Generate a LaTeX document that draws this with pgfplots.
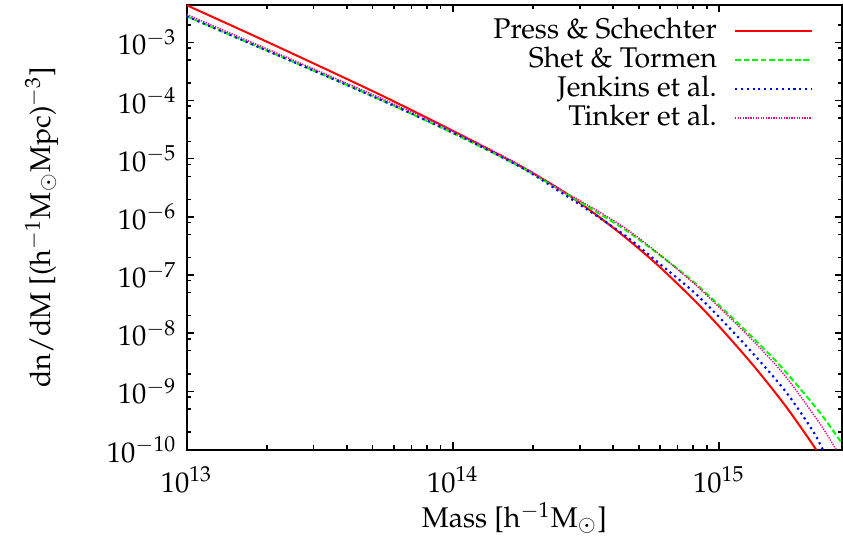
\documentclass[border=0pt]{standalone}
\usepackage[T1]{fontenc}
\usepackage{mathpazo}
\usepackage{pgfplots}
\pgfplotsset{compat=1.18}
\begin{document}
\begin{tikzpicture}
\begin{axis}[
  name=ax,
  xmode=log, ymode=log,
  scale only axis,
  width=230pt, height=156pt,
  xmin=1e13, xmax=2.9e15,
  ymin=1e-10, ymax=4.4e-3,
  xtick={1e13,1e14,1e15},
  ytick={1e-10,1e-9,1e-8,1e-7,1e-6,1e-5,1e-4,1e-3},
  minor ytick={2e-10,5e-10,8e-10,2e-9,5e-9,8e-9,2e-8,5e-8,8e-8,2e-7,5e-7,8e-7,2e-6,5e-6,8e-6,2e-5,5e-5,8e-5,2e-4,5e-4,8e-4,2e-3},
  tick align=inside,
  major tick length=2.6pt, minor tick length=1.5pt,
  every tick/.style={black, line width=0.5pt},
  axis line style={line width=0.7pt},
  xticklabel style={yshift=-2.5pt},
  xlabel={Mass [h$^{-1}$M$_\odot$]},
  ylabel={dn/dM [(h$^{-1}$M$_\odot$Mpc)$^{-3}$]},
  x label style={at={(axis description cs:0.5,-0.1538)}, anchor=center},
  y label style={at={(axis description cs:-0.2217,0.5)}, anchor=center},
  legend plot pos=right,
  legend cell align=right,
  legend image code/.code={\draw[#1] (0pt,0pt) -- (27pt,0pt);},
  legend style={draw=none, fill=none, at={(axis description cs:1,1)}, anchor=north east,
    xshift=-10pt, yshift=-3.8pt, inner sep=0pt, column sep=5pt,
    nodes={inner sep=1pt, text height=6.6pt, text depth=1.6pt}},
]
\addplot[red, line width=0.7pt, smooth] coordinates {
 (1e13,4.365e-3) (1.778e13,1.318e-3) (3.162e13,3.890e-4) (5.623e13,1.122e-4)
 (1e14,3.020e-5) (1.778e14,7.586e-6) (2.512e14,3.020e-6) (3.311e14,1.259e-6)
 (4.467e14,4.365e-7) (5.888e14,1.479e-7) (7.943e14,3.981e-8) (1e15,1.318e-8)
 (1.349e15,2.754e-9) (1.778e15,5.623e-10) (2.239e15,1.259e-10) (2.512e15,5.623e-11)
};
\addlegendentry{Press \& Schechter}
\addplot[green, line width=0.7pt, dash pattern=on 2pt off 1pt, smooth] coordinates {
 (1e13,2.818e-3) (1.778e13,9.120e-4) (3.162e13,2.951e-4) (5.623e13,9.333e-5)
 (1e14,2.754e-5) (1.778e14,7.413e-6) (2.512e14,2.951e-6) (3.311e14,1.380e-6)
 (4.467e14,5.888e-7) (5.888e14,2.344e-7) (7.943e14,7.943e-8) (1e15,3.020e-8)
 (1.288e15,1e-8) (1.585e15,3.890e-9) (1.905e15,1.514e-9) (2.399e15,4.266e-10)
 (2.884e15,1.318e-10) (3.162e15,7.079e-11)
};
\addlegendentry{Shet \& Tormen}
\addplot[blue, line width=0.75pt, dash pattern=on 0.75pt off 1.3pt, smooth] coordinates {
 (1e13,2.818e-3) (1.778e13,9.120e-4) (3.162e13,2.951e-4) (5.623e13,9.333e-5)
 (1e14,2.818e-5) (1.778e14,7.413e-6) (2.512e14,2.754e-6) (3.311e14,1.202e-6)
 (4.467e14,4.677e-7) (5.888e14,1.660e-7) (7.943e14,5.370e-8) (1e15,1.905e-8)
 (1.349e15,4.365e-9) (1.778e15,1e-9) (2.239e15,2.188e-10) (2.455e15,1e-10)
 (2.630e15,5.623e-11)
};
\addlegendentry{Jenkins et al.}
\addplot[magenta, line width=0.5pt, dash pattern=on 0.45pt off 0.45pt, smooth] coordinates {
 (1e13,3.020e-3) (1.778e13,9.772e-4) (3.162e13,3.162e-4) (5.623e13,1e-4)
 (1e14,3.020e-5) (1.778e14,7.943e-6) (2.512e14,3.020e-6) (3.311e14,1.479e-6)
 (4.467e14,6.310e-7) (5.888e14,2.399e-7) (7.943e14,7.586e-8) (1e15,2.818e-8)
 (1.259e15,1e-8) (1.514e15,4.169e-9) (1.820e15,1.585e-9) (2.399e15,2.754e-10)
 (2.754e15,1e-10) (2.951e15,5.623e-11)
};
\addlegendentry{Tinker et al.}
\end{axis}
\path ([shift={(-65.5pt,-33pt)}]ax.south west) rectangle ([shift={(0pt,1.75pt)}]ax.north east);
\end{tikzpicture}
\end{document}
